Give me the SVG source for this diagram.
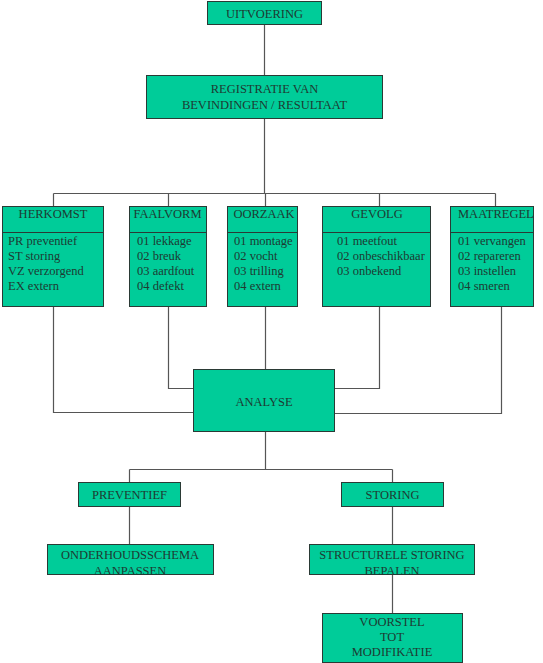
<svg xmlns="http://www.w3.org/2000/svg" width="543" height="663" viewBox="0 0 543 663">
<style>
.box{fill:#00CC99;stroke:#2a3a35;stroke-width:1}
.ln{fill:none;stroke:#555;stroke-width:1.2}
text{font-family:"Liberation Serif","Times New Roman",serif;font-size:12.5px;fill:#1e3a32}
.c{text-anchor:middle}
</style>
<rect width="543" height="663" fill="#fff"/>
<g id="connectors">
<path class="ln" d="M264.5 24V75M264.5 118V193.5M53.5 193.5H495.5M53.5 193.5V206M168.5 193.5V206M265.5 193.5V206M379.5 193.5V206M495.5 193.5V206"/>
<path class="ln" d="M53.5 306V412.5H193M168.5 306V388.5H193M265.5 306V369M379.5 306V388.5H334M501.5 306V413.5H334"/>
<path class="ln" d="M265.5 431V469.5M129.5 469.5H392.5M129.5 469.5V482M392.5 469.5V482M129.5 506V544M392.5 506V544M392.5 574V613"/>
</g>
<g id="uitvoering"><rect class="box" x="207.5" y="1.5" width="114" height="23"/><text class="c" x="264.5" y="18">UITVOERING</text></g>
<g id="registratie"><rect class="box" x="146.5" y="75.5" width="236" height="43"/><text class="c" x="264.5" y="93">REGISTRATIE VAN</text><text class="c" x="264.5" y="109">BEVINDINGEN / RESULTAAT</text></g>
<g id="herkomst"><rect class="box" x="2.5" y="206.5" width="101" height="100"/><path class="box" d="M2.5 232.5H103.5"/><text class="c" x="53" y="218">HERKOMST</text><text x="8" y="245">PR preventief</text><text x="8" y="260">ST storing</text><text x="8" y="275">VZ verzorgend</text><text x="8" y="290">EX extern</text></g>
<g id="faalvorm"><rect class="box" x="129.5" y="206.5" width="77" height="100"/><path class="box" d="M129.5 232.5H206.5"/><text class="c" x="167.5" y="218">FAALVORM</text><text x="137" y="245">01 lekkage</text><text x="137" y="260">02 breuk</text><text x="137" y="275">03 aardfout</text><text x="137" y="290">04 defekt</text></g>
<g id="oorzaak"><rect class="box" x="227.5" y="206.5" width="70" height="100"/><path class="box" d="M227.5 232.5H297.5"/><text class="c" x="264" y="218">OORZAAK</text><text x="234" y="245">01 montage</text><text x="234" y="260">02 vocht</text><text x="234" y="275">03 trilling</text><text x="234" y="290">04 extern</text></g>
<g id="gevolg"><rect class="box" x="322.5" y="206.5" width="108" height="100"/><path class="box" d="M322.5 232.5H430.5"/><text class="c" x="377" y="218">GEVOLG</text><text x="337" y="245">01 meetfout</text><text x="337" y="260">02 onbeschikbaar</text><text x="337" y="275">03 onbekend</text></g>
<g id="maatregel"><rect class="box" x="450.5" y="206.5" width="83" height="100"/><path class="box" d="M450.5 232.5H533.5"/><text x="458" y="218">MAATREGEL</text><text x="458" y="245">01 vervangen</text><text x="458" y="260">02 repareren</text><text x="458" y="275">03 instellen</text><text x="458" y="290">04 smeren</text></g>
<g id="analyse"><rect class="box" x="193.5" y="369.5" width="141" height="62"/><text class="c" x="264" y="406">ANALYSE</text></g>
<g id="preventief"><rect class="box" x="78.5" y="482.5" width="102" height="24"/><text class="c" x="129.5" y="499">PREVENTIEF</text></g>
<g id="storing"><rect class="box" x="341.5" y="482.5" width="102" height="24"/><text class="c" x="392.5" y="499">STORING</text></g>
<g id="onderhoudsschema"><rect class="box" x="47.5" y="544.5" width="166" height="30"/><text class="c" x="130" y="559">ONDERHOUDSSCHEMA</text><text class="c" x="130" y="575">AANPASSEN</text></g>
<g id="structurele"><rect class="box" x="309.5" y="544.5" width="165" height="30"/><text class="c" x="392" y="559">STRUCTURELE STORING</text><text class="c" x="392" y="575">BEPALEN</text></g>
<g id="voorstel"><rect class="box" x="322.5" y="613.5" width="140" height="49"/><text class="c" x="392" y="626">VOORSTEL</text><text class="c" x="392" y="641">TOT</text><text class="c" x="392" y="656">MODIFIKATIE</text></g>
</svg>
